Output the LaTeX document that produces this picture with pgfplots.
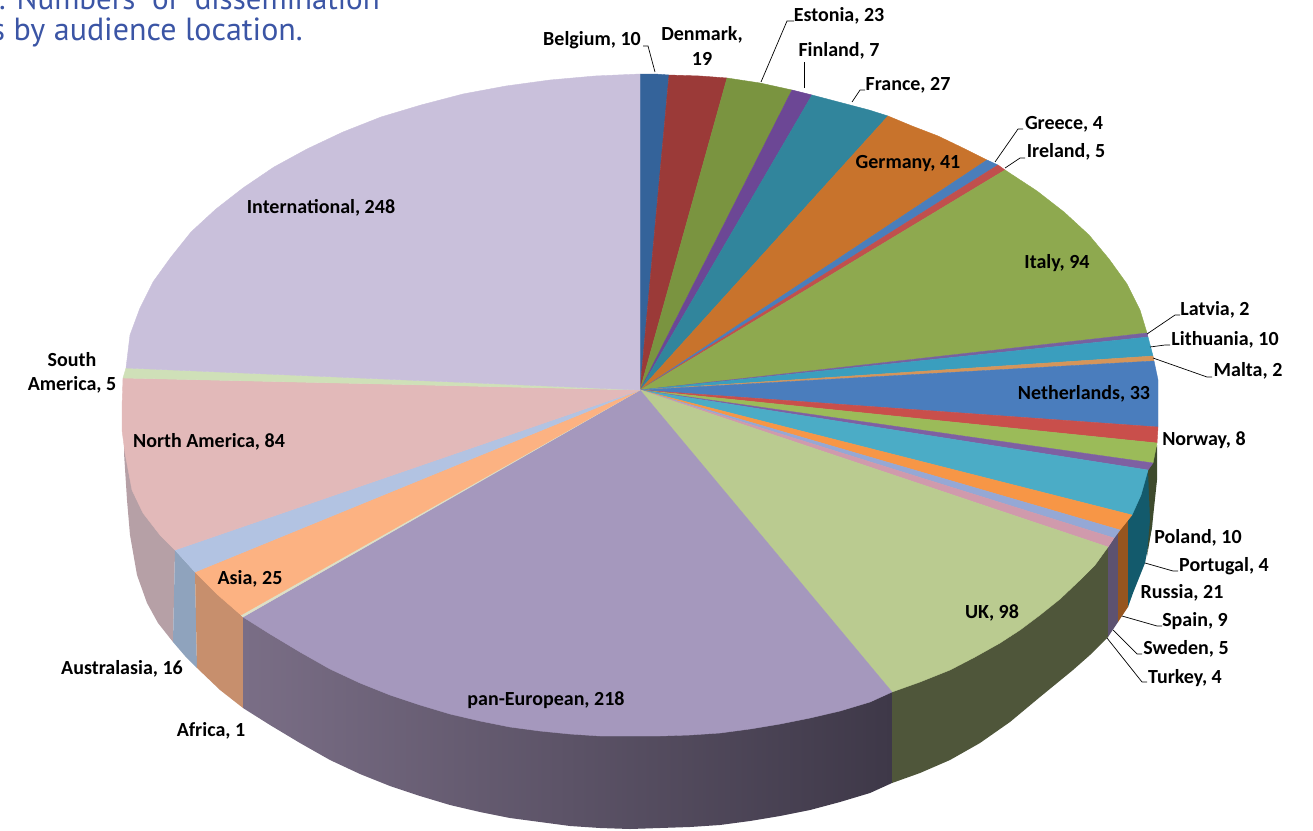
\documentclass[border=0pt]{standalone}
\usepackage{fontspec}
\setmainfont{Carlito}
\newfontfamily\titlefont{PT Sans}
\usepackage{pgfplots}
\pgfplotsset{compat=1.18}

% colours of the top face
\definecolor{cBE}{HTML}{34639A}
\definecolor{cDK}{HTML}{9B3A38}
\definecolor{cEE}{HTML}{7A9440}
\definecolor{cFI}{HTML}{6C4795}
\definecolor{cFR}{HTML}{31859C}
\definecolor{cDE}{HTML}{C8732C}
\definecolor{cGR}{HTML}{4A7EBB}
\definecolor{cIE}{HTML}{C0504D}
\definecolor{cIT}{HTML}{8EA94F}
\definecolor{cLV}{HTML}{77619F}
\definecolor{cLT}{HTML}{3A9EBE}
\definecolor{cMT}{HTML}{D5955A}
\definecolor{cNL}{HTML}{4A7DBD}
\definecolor{cNO}{HTML}{C94F4B}
\definecolor{cPL}{HTML}{9BBB59}
\definecolor{cPT}{HTML}{7E60A2}
\definecolor{cRU}{HTML}{4BACC6}
\definecolor{cES}{HTML}{F79646}
\definecolor{cSE}{HTML}{95A8D5}
\definecolor{cTR}{HTML}{D09AAC}
\definecolor{cUK}{HTML}{BACB90}
\definecolor{cPE}{HTML}{A598BD}
\definecolor{cAF}{HTML}{DDE0C8}
\definecolor{cAS}{HTML}{FCB282}
\definecolor{cAU}{HTML}{B2C3E2}
\definecolor{cNA}{HTML}{E2B9B9}
\definecolor{cSA}{HTML}{CFE0B8}
\definecolor{cIN}{HTML}{C9C0DB}
\definecolor{titleblue}{HTML}{3B55A5}

\newcommand{\slice}[2]{\addplot[draw=#1,line width=0.4pt,fill=#1,line join=round] coordinates {#2};}
\newcommand{\leader}[1]{\addplot[black,line width=0.7pt] coordinates {#1};}
\newcommand{\lab}[3]{\node[font=\fontsize{20}{24.5}\selectfont\bfseries,black,align=center,inner sep=0pt,yshift=-1pt] at (axis cs:#1,#2) {#3};}

\begin{document}
\begin{tikzpicture}
\useasboundingbox (0,0) rectangle (1313pt,830pt);
\begin{axis}[
    at={(0,0)},anchor=south west,
    scale only axis,
    width=1313pt,height=830pt,
    xmin=0,xmax=1313,ymin=0,ymax=830,
    y dir=reverse,
    hide axis,
    no markers,
    clip=true,
]
% side wall
\addplot[draw=none,fill={rgb,255:red,182;green,160;blue,166}] coordinates {(124,445)(175,550)(173,642)(158,623)(147,603)(137,575)(130,535)(127,500)(124,453)};
\addplot[draw=none,fill={rgb,255:red,143;green,163;blue,189}] coordinates {(175,550)(195,572)(197,668)(185,656)(173,642)};
\addplot[draw=none,fill={rgb,255:red,199;green,143;blue,109}] coordinates {(195,572)(243,617)(243,708)(220,690)(197,668)};
\addplot[draw=none,left color={rgb,255:red,122;green,110;blue,134},middle color={rgb,255:red,88;green,78;blue,100},right color={rgb,255:red,62;green,56;blue,72}] coordinates {(243,617)(892,692)(892,783)(870,793)(840,802)(810,810)(780,816)(750,821)(720,825)(690,827)(660,828)(630,829)(600,828)(570,826)(540,822)(510,818)(480,812)(450,805)(420,796)(390,786)(360,774)(330,760)(300,743)(270,725)(243,708)};
\addplot[draw=none,fill={rgb,255:red,79;green,86;blue,58}] coordinates {(892,692)(1108,547)(1108,637)(1090,655)(1073,670)(1040,697)(1010,722)(980,743)(950,760)(920,773)(892,783)};
\addplot[draw=none,fill={rgb,255:red,93;green,82;blue,112}] coordinates {(1108,547)(1118,532)(1118,622)(1108,637)};
\addplot[draw=none,fill={rgb,255:red,150;green,85;blue,31}] coordinates {(1118,532)(1128,520)(1128,607)(1118,622)};
\addplot[draw=none,fill={rgb,255:red,19;green,90;blue,108}] coordinates {(1128,520)(1148,470)(1154,470)(1152,527)(1145,563)(1133,593)(1128,607)};
\addplot[draw=none,fill={rgb,255:red,62;green,74;blue,44}] coordinates {(1148,470)(1157,445)(1157,480)(1152,527)(1147,556)(1150,520)};
% top face, clockwise from the top
\slice{cBE}{(640,390)(640,74)(655,74)(669,75)(640,390)}
\slice{cDK}{(640,390)(669,75)(700,76)(727,78)(640,390)}
\slice{cEE}{(640,390)(727,78)(760,83)(792,90)(640,390)}
\slice{cFI}{(640,390)(792,90)(812,95)(640,390)}
\slice{cFR}{(640,390)(812,95)(831,100)(850,105)(869,110)(888,116)(640,390)}
\slice{cDE}{(640,390)(888,116)(912,126)(938,136)(963,148)(987,160)(640,390)}
\slice{cGR}{(640,390)(987,160)(998,165)(640,390)}
\slice{cIE}{(640,390)(998,165)(1005,170)(640,390)}
\slice{cIT}{(640,390)(1005,170)(1037,191)(1064,212)(1089,235)(1109,259)(1127,284)(1140,310)(1147,333)(640,390)}
\slice{cLV}{(640,390)(1147,333)(1148,337)(640,390)}
\slice{cLT}{(640,390)(1148,337)(1153,356)(640,390)}
\slice{cMT}{(640,390)(1153,356)(1154,361)(640,390)}
\slice{cNL}{(640,390)(1154,361)(1158,380)(1158,400)(1158,427)(640,390)}
\slice{cNO}{(640,390)(1158,427)(1157,443)(640,390)}
\slice{cPL}{(640,390)(1157,443)(1153,463)(640,390)}
\slice{cPT}{(640,390)(1153,463)(1148,470)(640,390)}
\slice{cRU}{(640,390)(1148,470)(1141,495)(1132,515)(640,390)}
\slice{cES}{(640,390)(1132,515)(1120,530)(640,390)}
\slice{cSE}{(640,390)(1120,530)(1114,538)(640,390)}
\slice{cTR}{(640,390)(1114,538)(1108,547)(640,390)}
\slice{cUK}{(640,390)(1108,547)(1095,565)(1080,580)(1060,599)(1040,615)(1020,630)(1000,643)(975,657)(950,670)(920,682)(892,692)(640,390)}
\slice{cPE}{(640,390)(892,692)(870,702)(840,711)(810,718)(780,724)(750,729)(720,733)(690,735)(660,736)(632,736)(600,736)(570,734)(540,731)(510,727)(480,721)(450,714)(420,705)(390,695)(360,683)(330,669)(300,652)(270,634)(243,617)(640,390)}
\slice{cAF}{(640,390)(243,617)(241,615)(640,390)}
\slice{cAS}{(640,390)(241,615)(218,595)(195,572)(640,390)}
\slice{cAU}{(640,390)(195,572)(175,550)(640,390)}
\slice{cNA}{(640,390)(175,550)(160,535)(143,513)(132,490)(125,453)(122,430)(122,407)(123,378)(640,390)}
\slice{cSA}{(640,390)(123,378)(126,368)(640,390)}
\slice{cIN}{(640,390)(126,368)(130,335)(140,308)(153,282)(171,257)(191,232)(216,209)(243,188)(274,167)(307,149)(343,132)(381,117)(421,105)(463,94)(506,86)(550,80)(595,76)(640,74)(640,390)}
% leader lines
\leader{(655,72)(648,46)(643,46)}
\leader{(761,82)(787,21)(794,21)}
\leader{(804,88)(804,62)}
\leader{(852,102)(860,90)(865,90)}
\leader{(995,162)(1018,129)(1023,129)}
\leader{(1005,168)(1020,158)(1025,158)}
\leader{(1147,334)(1175,315)(1180,315)}
\leader{(1150,347)(1165,345)(1170,345)}
\leader{(1153,358)(1207,377)(1212,377)}
\leader{(1145,563)(1173,571)(1178,571)}
\leader{(1122,616)(1157,626)(1162,626)}
\leader{(1113,630)(1137,654)(1142,654)}
\leader{(1107,638)(1142,682)(1147,682)}
% labels
\lab{592}{39}{Belgium, 10}
\lab{702}{45}{Denmark,\\19}
\lab{839}{15}{Estonia, 23}
\lab{839}{50}{Finland, 7}
\lab{908}{84}{France, 27}
\lab{908}{163}{Germany, 41}
\lab{1064}{123}{Greece, 4}
\lab{1066}{151}{Ireland, 5}
\lab{1057}{262}{Italy, 94}
\lab{1215}{309}{Latvia, 2}
\lab{1225}{339}{Lithuania, 10}
\lab{1248}{370}{Malta, 2}
\lab{1084}{393}{Netherlands, 33}
\lab{1204}{439}{Norway, 8}
\lab{1198}{537}{Poland, 10}
\lab{1224}{565}{Portugal, 4}
\lab{1182}{592}{Russia, 21}
\lab{1195}{620}{Spain, 9}
\lab{1186}{648}{Sweden, 5}
\lab{1185}{677}{Turkey, 4}
\lab{992}{612}{UK, 98}
\lab{546}{699}{pan-European, 218}
\lab{211}{730}{Africa, 1}
\lab{250}{578}{Asia, 25}
\lab{122}{668}{Australasia, 16}
\lab{209}{441}{North America, 84}
\lab{72}{372}{South\\America, 5}
\lab{321}{207}{International, 248}
% caption fragments cut by the crop
\node[font=\titlefont\fontsize{31}{36}\selectfont,text=titleblue,anchor=base east,inner sep=0pt] at (axis cs:380,9) {.\hspace{0.35em}Numbers\ \ of\ \ dissemination};
\node[font=\titlefont\fontsize{32}{36}\selectfont,text=titleblue,anchor=base east,inner sep=0pt] at (axis cs:303,40) {s by audience location.};
\end{axis}
\end{tikzpicture}
\end{document}
